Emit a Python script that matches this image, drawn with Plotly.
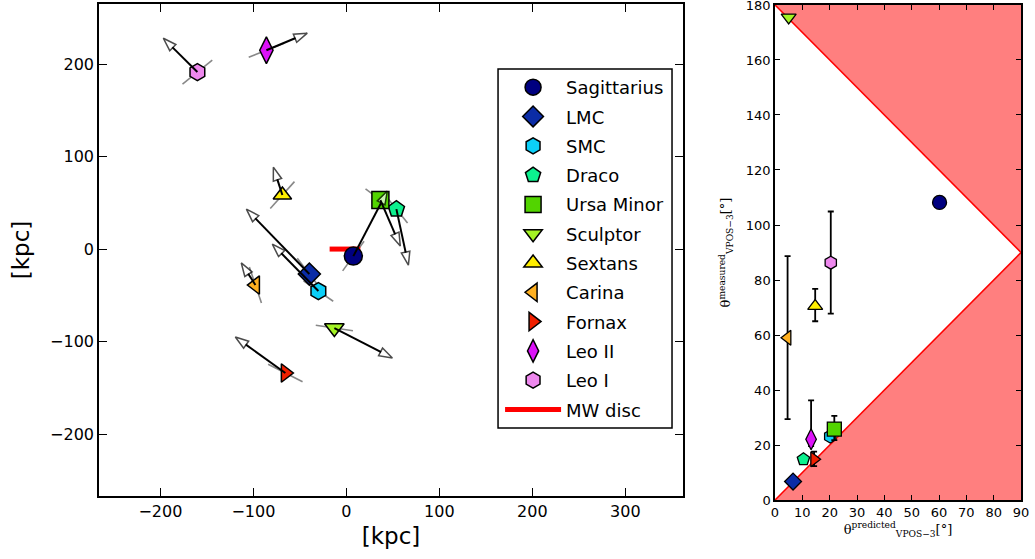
import plotly.graph_objects as go

# ---------------- data ----------------
names = ["Sagittarius", "LMC", "SMC", "Draco", "Ursa Minor", "Sculptor",
         "Sextans", "Carina", "Fornax", "Leo II", "Leo I"]
colors = ["#000080", "#0b2ca6", "#0ccff8", "#0cf08e", "#52d400", "#a4f424",
          "#ffee00", "#ffb020", "#f02000", "#dc12f8", "#ee88ee"]
symbols = ["circle", "diamond", "hexagon", "pentagon", "square", "triangle-down",
           "triangle-up", "triangle-left", "triangle-right", "diamond-tall", "hexagon"]
sizes_left = [18, 17, 17, 17, 17, 17, 16, 16, 16, 19, 17]
sizes_right = [14, 13, 13, 13, 14, 13, 13, 13, 13, 15, 13]

# positions in the projection [kpc]
pos_x = [7.5, -39.8, -30.1, 53.8, 36.6, -12.9, -68.8, -97.8, -65.6, -86.0, -160.2]
pos_y = [-7.6, -27.0, -45.4, 43.2, 53.0, -85.4, 58.4, -38.9, -134.0, 215.0, 191.4]
# arrow tips (velocity direction) [kpc]
tip_x = [44.0, -107.5, -79.6, 66.7, 58.0, 49.5, -78.5, -113.0, -119.4, -42.0, -196.8]
tip_y = [62.7, 43.2, 5.4, -17.3, 3.2, -117.8, 88.6, -15.0, -95.1, 233.5, 228.0]
# orbital pole uncertainty segments: half extent [kpc]
pole_dx = [11.5, -13.0, 16.0, 12.0, -16.0, 20.0, 13.0, 6.5, 18.5, 19.0, 16.0]
pole_dy = [16.0, 17.0, -11.0, -15.0, 12.0, -3.0, 14.5, -19.5, -9.5, 7.6, 13.0]

disc_x = [-18.0, 15.0]
disc_y = [0.0, 0.0]

# right panel: predicted vs measured angle [deg]
theta_pred = [60.2, 6.6, 20.2, 10.4, 21.7, 5.0, 14.7, 4.6, 14.3, 13.2, 20.4]
theta_meas = [108.2, 6.7, 23.1, 14.8, 25.8, 175.5, 70.5, 59.0, 14.8, 22.1, 86.3]
err_plus = [0, 0, 0, 0, 4.8, 0, 6.3, 29.7, 2.8, 14.1, 18.6]
err_minus = [0, 0, 0, 0, 4.0, 0, 5.5, 29.6, 2.5, 2.5, 18.5]

bound_x = [0, 90]
ticks_left = [-200, -100, 0, 100, 200, 300]
ticks_right_x = [0, 10, 20, 30, 40, 50, 60, 70, 80, 90]
ticks_right_y = [0, 20, 40, 60, 80, 100, 120, 140, 160, 180]

# ---------------- figure ----------------
fig = go.Figure()

# gray pole segments
gx, gy = [], []
for x, y, dx, dy in zip(pos_x, pos_y, pole_dx, pole_dy):
    gx += [x - dx, x + dx, None]
    gy += [y - dy, y + dy, None]
fig.add_trace(go.Scatter(x=gx, y=gy, mode="lines", line=dict(color="#888888", width=1.6),
                         showlegend=False, hoverinfo="skip"))

# MW disc
fig.add_trace(go.Scatter(x=disc_x, y=disc_y, mode="lines", name="MW disc",
                         line=dict(color="#ff0000", width=5), legendgroup="disc",
                         legendrank=20))

# galaxies (left)
for i, n in enumerate(names):
    fig.add_trace(go.Scatter(
        x=[pos_x[i]], y=[pos_y[i]], mode="markers", name=n, legendgroup=n,
        legendrank=i + 1,
        marker=dict(symbol=symbols[i], size=sizes_left[i], color=colors[i],
                    line=dict(color="black", width=1.5))))

# arrows
for i, n in enumerate(names):
    fig.add_trace(go.Scatter(
        x=[pos_x[i], tip_x[i]], y=[pos_y[i], tip_y[i]], mode="lines+markers",
        showlegend=False, hoverinfo="skip",
        line=dict(color="black", width=2),
        marker=dict(symbol=["circle", "arrow"], size=[0, 14], angleref="previous",
                    color="white", line=dict(color="black", width=1.5))))

# right panel: shaded regions
up_y = [180 - v for v in bound_x]
low_y = [v for v in bound_x]
fig.add_trace(go.Scatter(
    x=[bound_x[0], bound_x[1], bound_x[1], bound_x[0]],
    y=[up_y[0], up_y[1], 180, up_y[0]], fill="toself",
    fillcolor="rgba(255,0,0,0.5)", line=dict(color="rgba(0,0,0,0)", width=0),
    mode="lines", showlegend=False, hoverinfo="skip", xaxis="x2", yaxis="y2"))
fig.add_trace(go.Scatter(
    x=[bound_x[0], bound_x[1], bound_x[1], bound_x[0]],
    y=[low_y[0], low_y[1], 0, low_y[0]], fill="toself",
    fillcolor="rgba(255,0,0,0.5)", line=dict(color="rgba(0,0,0,0)", width=0),
    mode="lines", showlegend=False, hoverinfo="skip", xaxis="x2", yaxis="y2"))
fig.add_trace(go.Scatter(x=bound_x, y=up_y, mode="lines", line=dict(color="#ff0000", width=1.6),
                         showlegend=False, hoverinfo="skip", xaxis="x2", yaxis="y2"))
fig.add_trace(go.Scatter(x=bound_x, y=low_y, mode="lines", line=dict(color="#ff0000", width=1.6),
                         showlegend=False, hoverinfo="skip", xaxis="x2", yaxis="y2"))

for i, n in enumerate(names):
    has_err = err_plus[i] > 0 or err_minus[i] > 0
    fig.add_trace(go.Scatter(
        x=[theta_pred[i]], y=[theta_meas[i]], mode="markers", showlegend=False,
        xaxis="x2", yaxis="y2",
        error_y=dict(type="data", symmetric=False, array=[err_plus[i]],
                     arrayminus=[err_minus[i]], color="black", thickness=1.8,
                     width=3, visible=has_err),
        marker=dict(symbol=symbols[i], size=sizes_right[i], color=colors[i],
                    line=dict(color="black", width=1.3))))

axis_common = dict(showgrid=False, zeroline=False, showline=True, linecolor="black",
                   linewidth=1.5, mirror="ticks", ticks="inside", tickcolor="black",
                   tickwidth=1.2, ticklabeloverflow="allow", automargin=False)

fig.update_layout(
    width=1035, height=559,
    margin=dict(l=99, r=14, t=4, b=59, autoexpand=False),
    paper_bgcolor="white", plot_bgcolor="white",
    font=dict(family="DejaVu Sans", color="black"),
    xaxis=dict(domain=[0, 0.6334], range=[-266, 362], tickvals=ticks_left, ticklen=8,
               tickfont=dict(size=16),
               title=dict(text="[kpc]", font=dict(size=23), standoff=8), **axis_common),
    yaxis=dict(domain=[0.0081, 1.0], range=[-267, 265], tickvals=ticks_left[:-1], ticklen=8,
               tickfont=dict(size=16),
               title=dict(text="[kpc]", font=dict(size=23), standoff=14), **axis_common),
    xaxis2=dict(domain=[0.7332, 1.0], range=[0, 90.001], tickvals=ticks_right_x, ticklen=5,
                anchor="y2", tickfont=dict(size=13),
                title=dict(text="θ<sup>predicted</sup><sub>VPOS−3</sub>[°]",
                           font=dict(size=13, family="DejaVu Serif"), standoff=4),
                **axis_common),
    yaxis2=dict(domain=[0.0, 0.998], range=[0, 180.001], tickvals=ticks_right_y, ticklen=5,
                anchor="x2", tickfont=dict(size=13),
                title=dict(text="θ<sup>measured</sup><sub>VPOS−3</sub>[°]",
                           font=dict(size=13, family="DejaVu Serif"), standoff=12),
                **axis_common),
    legend=dict(x=0.4350, y=0.869, xanchor="left", yanchor="top",
                bgcolor="rgba(0,0,0,0)", borderwidth=0,
                font=dict(size=18), traceorder="grouped", tracegroupgap=2.9,
                itemwidth=56),
    shapes=[dict(type="rect", xref="paper", yref="paper",
                 x0=0.4328, x1=0.6215, y0=0.1452, y1=0.869,
                 line=dict(color="black", width=1.5), fillcolor="white", layer="above")],
)

fig.write_html("out.html", config={"displayModeBar": False},
               post_script="document.body.style.margin='0px';document.body.style.overflow='hidden';")
